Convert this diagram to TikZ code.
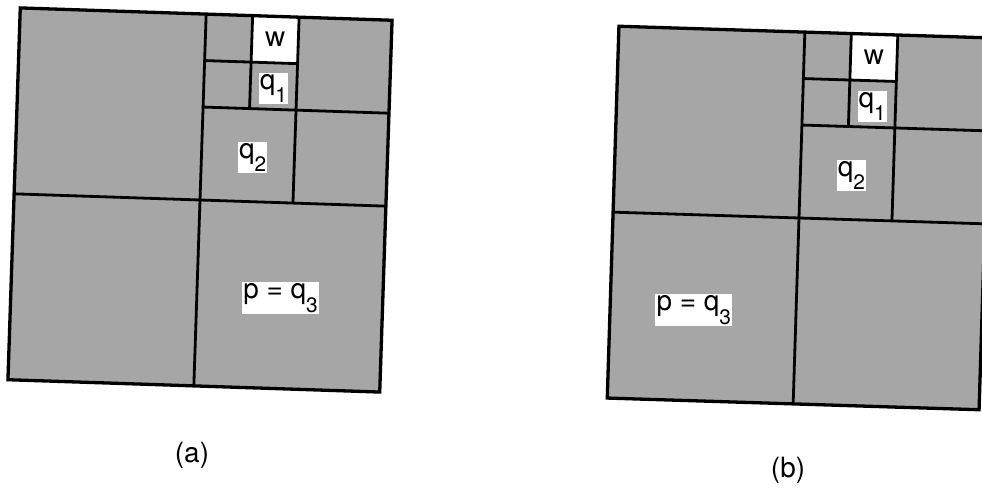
\documentclass[tikz,border=0pt]{standalone}
\usepackage{fontspec}
\setmainfont{TeX Gyre Heros}
\newcommand{\lowidx}[1]{\raisebox{-0.48em}{\fontsize{21}{21}\selectfont #1}}
\tikzset{
	cellfill/.style={fill=black!35},
	gridline/.style={line width=2.8bp},
	rimline/.style={line width=3.3bp},
	cellname/.style={fill=white, inner sep=1.2bp, font=\fontsize{28}{30}\selectfont},
	caption/.style={font=\fontsize{28}{30}\selectfont}
}
\begin{document}
\begin{tikzpicture}[x=1bp,y=1bp]
	%
	\def\cell{46.5}
	%
	\useasboundingbox (0,0) rectangle (982,493);
	\clip (0,0) rectangle (982,493);
	\foreach \cx/\cy/\tilt/\px/\lx/\ly/\name in {200/293/-1.9/2/192/38/a,799/275/-1.8/-2/788/23/b}{
		\begin{scope}[shift={(\cx,\cy)},rotate=\tilt,scale=\cell]
			\fill [cellfill] (-4,-4) rectangle (4,4);
			\fill [white] (1,3) rectangle (2,4);
			% quadrant splits
			\draw [gridline] (0,-4) -- (0,4) (-4,0) -- (4,0);
			\draw [gridline] (2,0) -- (2,4) (0,2) -- (4,2);
			\draw [gridline] (1,2) -- (1,4) (0,3) -- (2,3);
			\draw [rimline] (-4,-4) rectangle (4,4);
			\node [cellname, fill=none] (w-\name) at (1.5,3.5) {w};
			\node [cellname] (q1-\name) at (1.5,2.45) {q\lowidx{1}};
			\node [cellname] (q2-\name) at (1.1,0.95) {q\lowidx{2}};
			\node [cellname] (q3-\name) at (\px-0.2,-2.05) {p = q\lowidx{3}};
		\end{scope}
		\node [caption] (cap-\name) at (\lx,\ly) {(\name)};
	}
\end{tikzpicture}
\end{document}
